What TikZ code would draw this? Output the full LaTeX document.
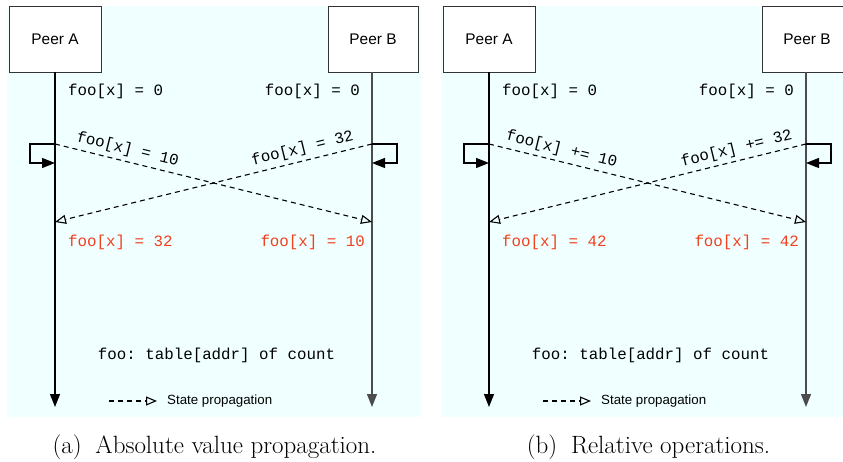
\documentclass[tikz,border=0pt]{standalone}
\usepackage{fontspec}
\setmonofont{Liberation Mono}
\newfontfamily\sansf{Liberation Sans}
\usepackage{tikz}
\usetikzlibrary{arrows.meta, positioning, calc}
\definecolor{seqBg}{HTML}{F0FFFF}
\definecolor{seqRed}{HTML}{F0401E}
\definecolor{seqLine}{HTML}{333333}

\begin{document}
\begin{tikzpicture}[
  x=1pt, y=-1pt,
  peer/.style={draw=seqLine, fill=white, line width=0.9pt, minimum width=92pt,
               minimum height=66pt, font=\sansf\fontsize{15.4}{18}\selectfont},
  life/.style={line width=1.4pt, -{Triangle[length=13pt, width=10pt]}},
  loopar/.style={line width=1.1pt, -{Triangle[length=13pt, width=10pt]}},
  prop/.style={dashed, dash pattern=on 5pt off 4pt, line width=1.1pt,
               -{Triangle[open, length=11pt, width=9pt]}},
  val/.style={inner sep=0pt, font=\ttfamily\fontsize{15.8}{18}\selectfont},
  newval/.style={val, text=seqRed},
  msg/.style={val, sloped, above=3pt, inner sep=1pt},
  capt/.style={font=\fontsize{25}{30}\selectfont}
]
\clip (0,0) rectangle (843,462);
\useasboundingbox (0,0) rectangle (843,462);

\foreach \i/\dx/\op/\ra/\rb/\cap in {a/0/=/32/10/Absolute value propagation.,
                                      b/434/+=/42/42/Relative operations.}{
  \begin{scope}[xshift=\dx pt]
    % background
    \fill[seqBg] (7,6) rectangle (421,417);

    % peers
    \node[peer] (pa\i) at (55,39) {Peer A};
    \node[peer, minimum width=90pt] (pb\i) at (373,39) {Peer B};

    % lifelines
    \coordinate (ea\i) at (55,407);
    \coordinate (eb\i) at (372,407);
    \draw[life] (pa\i.south) -- (ea\i);
    \draw[life, draw=black!70, fill=black!70] (pb\i.south-|eb\i) -- (eb\i);

    \node[val, anchor=west] (ia\i) at (68,91) {foo[x] = 0};
    \node[val, anchor=east] (ib\i) at (360,91) {foo[x] = 0};

    % local updates
    \coordinate (sa\i) at (55,144);
    \coordinate (la\i) at (55,163);
    \coordinate (ra\i) at (55,222);
    \coordinate (sb\i) at (372,144);
    \coordinate (lb\i) at (372,163);
    \coordinate (rb\i) at (372,222);
    \draw[loopar] (sa\i) -- ++(-25,0) |- (la\i);
    \draw[loopar] (sb\i) -- ++(25,0) |- (lb\i);

    % propagation
    \draw[prop] (sa\i) -- node[msg, pos=0.22] {foo[x]~\op~10} (rb\i);
    \draw[prop] (sb\i) -- node[msg, pos=0.21] {foo[x]~\op~32} (ra\i);

    \node[newval, anchor=west] (na\i) at (68,242) {foo[x] = \ra};
    \node[newval, anchor=east] (nb\i) at (365,242) {foo[x] = \rb};

    \node[val] (tab\i) at (216.5,355) {foo: table[addr] of count};

    % legend
    \coordinate (lg\i) at (109,401);
    \node[inner sep=0pt, anchor=west, font=\sansf\fontsize{13.3}{15}\selectfont]
      (lt\i) at (167,401) {State propagation};
    \draw[prop] (lg\i) -- (lt\i.west-|157,0);

    \node[capt] (cap\i) at (214.5,447) {(\i)\hspace{0.55em}\cap};
  \end{scope}
}
\end{tikzpicture}
\end{document}
